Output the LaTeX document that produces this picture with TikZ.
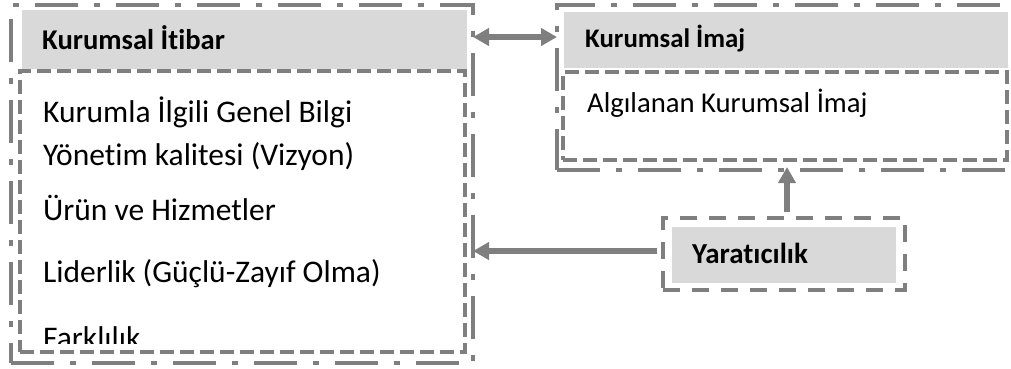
\documentclass[tikz,border=0pt]{standalone}
\usepackage{fontspec}
\setmainfont{Carlito}[Ligatures=CommonOff]
\usetikzlibrary{arrows.meta}
\definecolor{ln}{HTML}{7F7F7F}
\definecolor{hd}{HTML}{D9D9D9}
\begin{document}
\begin{tikzpicture}[x=1pt,y=-1pt,
  outerbox/.style={draw=ln, line width=4.5pt, dash pattern=on 43pt off 16pt on 6pt off 16pt, inner sep=0pt, outer sep=0pt, anchor=north west},
  innerbox/.style={draw=ln, line width=4.5pt, dash pattern=on 14pt off 6pt, inner sep=0pt, outer sep=0pt, anchor=north west},
  ydash/.style={draw=ln, line width=4.5pt, dash pattern=on 17pt off 12pt, inner sep=0pt, outer sep=0pt, anchor=north west},
  hdrbox/.style={fill=hd, inner sep=0pt, outer sep=0pt, anchor=north west},
  hdrtxt/.style={anchor=base west, inner sep=0pt, font=\bfseries\fontsize{28.6}{34}\selectfont},
  bodytxt/.style={anchor=base west, inner sep=0pt, font=\fontsize{31.5}{38}\selectfont},
  tip/.tip={Triangle[width=17pt,length=16pt]},
  arr/.style={draw=ln, line width=5.7pt, -tip},
]
\useasboundingbox (0,0) rectangle (1011,368);
\clip (0,0) rectangle (1011,368);
% left group
\node[hdrbox, minimum width=445pt, minimum height=59pt] (hL) at (22,10) {};
\node[innerbox, minimum width=445pt, minimum height=281pt] (iL) at (20,71) {};
\node[outerbox, minimum width=462pt, minimum height=358pt] (L) at (11,5) {};
\node[hdrtxt] (tL) at (42,49) {Kurumsal İtibar};
\begin{scope}
\clip (20,71) rectangle (465,343);
\node[bodytxt] (b1) at (43,122) {Kurumla İlgili Genel Bilgi};
\node[bodytxt] (b2) at (43,165) {Yönetim kalitesi (Vizyon)};
\node[bodytxt] (b3) at (43,220) {Ürün ve Hizmetler};
\node[bodytxt] (b4) at (43,282) {Liderlik (Güçlü-Zayıf Olma)};
\node[bodytxt] (b5) at (43,348) {Farklılık};
\end{scope}
% right group
\node[hdrbox, minimum width=444pt, minimum height=56pt] (hR) at (564,12) {};
\node[innerbox, minimum width=444pt, minimum height=88pt] (iR) at (563,72) {};
\node[outerbox, minimum width=463pt, minimum height=165pt] (R) at (557,5) {};
\node[hdrtxt, font=\bfseries\fontsize{26.8}{32}\selectfont] (tR) at (585,47) {Kurumsal İmaj};
\node[bodytxt, font=\fontsize{28.7}{34}\selectfont] (bR) at (587,112) {Algılanan Kurumsal İmaj};
% Yaraticilik
\node[ydash, minimum width=242pt, minimum height=72pt] (Y) at (663,218) {};
\node[hdrbox, minimum width=224pt, minimum height=56pt] (Yf) at (672,227) {};
\node[hdrtxt, font=\bfseries\fontsize{29}{34}\selectfont] (tY) at (692,263) {Yaratıcılık};
% connectors
\coordinate (la) at ([yshift=-32pt]L.north east);
\coordinate (ra) at ([yshift=-32pt]R.north west);
\draw[arr, tip-tip] (la) -- (ra);
\coordinate (ya) at ([xshift=-6pt,yshift=3pt]Y.west);
\draw[arr] (ya) -- (L.east |- ya);
\coordinate (yb) at ([xshift=3pt,yshift=6pt]Y.north);
\coordinate (rb) at ([yshift=3pt]R.south);
\draw[arr] (yb) -- (rb -| yb);
\end{tikzpicture}
\end{document}
